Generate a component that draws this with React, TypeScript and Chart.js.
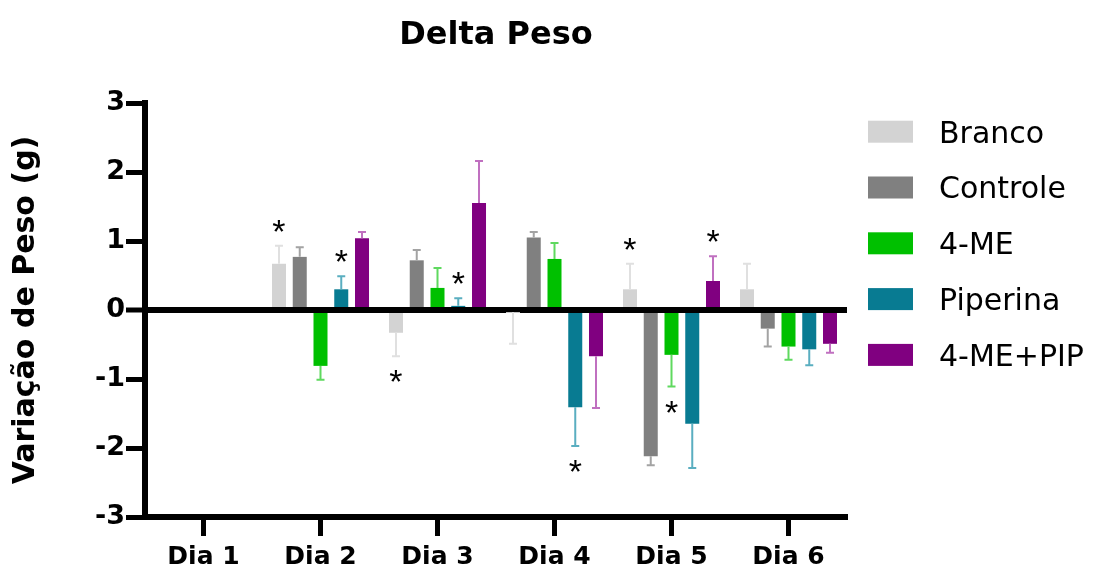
import React, { useEffect, useRef } from 'react';
import { Chart, registerables } from 'chart.js';

Chart.register(...registerables);

// ---- Data ----
const categories = ['Dia 1', 'Dia 2', 'Dia 3', 'Dia 4', 'Dia 5', 'Dia 6'];
const seriesNames = ['Branco', 'Controle', '4-ME', 'Piperina', '4-ME+PIP'];

const branco = [null, 0.67, -0.33, -0.03, 0.30, 0.30];
const brancoErr = [null, 0.26, 0.34, 0.46, 0.37, 0.37];
const brancoSig = [0, 1, 1, 0, 1, 0];

const controle = [null, 0.77, 0.72, 1.05, -2.12, -0.27];
const controleErr = [null, 0.14, 0.15, 0.08, 0.13, 0.26];
const controleSig = [0, 0, 0, 0, 0, 0];

const me4 = [null, -0.81, 0.32, 0.74, -0.65, -0.53];
const me4Err = [null, 0.20, 0.29, 0.23, 0.46, 0.19];
const me4Sig = [0, 0, 0, 0, 1, 0];

const piperina = [null, 0.30, 0.06, -1.41, -1.65, -0.57];
const piperinaErr = [null, 0.19, 0.11, 0.56, 0.64, 0.23];
const piperinaSig = [0, 1, 1, 1, 0, 0];

const mePip = [null, 1.04, 1.55, -0.67, 0.42, -0.49];
const mePipErr = [null, 0.09, 0.61, 0.75, 0.36, 0.13];
const mePipSig = [0, 0, 0, 0, 1, 0];

const yTicks = [-3, -2, -1, 0, 1, 2, 3];

const barColors = ['#d3d3d3', '#808080', '#00c000', '#087b92', '#800080'];
const errColors = ['#e0e0e0', '#a3a3a3', '#5fd95f', '#5aaec0', '#c070c0'];

const FONT = "'DejaVu Sans', sans-serif";

const errorBarPlugin = {
  id: 'errorBars',
  afterDatasetsDraw(chart: any) {
    const ctx = chart.ctx;
    const yScale = chart.scales.y;
    chart.data.datasets.forEach((ds: any, i: number) => {
      const meta = chart.getDatasetMeta(i);
      meta.data.forEach((bar: any, j: number) => {
        const v = ds.data[j];
        if (v == null) return;
        const e = ds.errors[j];
        const end = v >= 0 ? v + e : v - e;
        const yv = yScale.getPixelForValue(v);
        const ye = yScale.getPixelForValue(end);
        ctx.save();
        ctx.strokeStyle = ds.errorColor;
        ctx.lineWidth = 2;
        ctx.beginPath();
        ctx.moveTo(bar.x, yv);
        ctx.lineTo(bar.x, ye);
        ctx.moveTo(bar.x - 4, ye);
        ctx.lineTo(bar.x + 4, ye);
        ctx.stroke();
        if (ds.sig[j]) {
          ctx.font = "34px 'Liberation Sans', sans-serif";
          ctx.fillStyle = '#000';
          ctx.textAlign = 'center';
          ctx.textBaseline = 'alphabetic';
          const m = ctx.measureText('*');
          const cy = v >= 0 ? ye - 20 : ye + 20;
          const baseY = cy + (m.actualBoundingBoxAscent - m.actualBoundingBoxDescent) / 2;
          ctx.fillText('*', bar.x, baseY);
        }
        ctx.restore();
      });
    });
  },
};

const sideLegendPlugin = {
  id: 'sideLegend',
  afterDraw(chart: any) {
    const ctx = chart.ctx;
    const area = chart.chartArea;
    ctx.save();
    ctx.font = `30px ${FONT}`;
    ctx.textAlign = 'left';
    ctx.textBaseline = 'alphabetic';
    chart.data.datasets.forEach((ds: any, i: number) => {
      const cy = area.top + 28.7 + i * 55.8;
      const bx = area.right + 21;
      ctx.fillStyle = ds.backgroundColor;
      ctx.fillRect(bx, cy - 11, 45, 22);
      ctx.fillStyle = '#000';
      ctx.fillText(ds.label, bx + 71, cy + 10.9);
    });
    ctx.restore();
  },
};

export default function App() {
  const canvasRef = useRef<HTMLCanvasElement | null>(null);

  useEffect(() => {
    document.body.style.margin = '0';
    const canvas = canvasRef.current;
    if (!canvas) return;

    const values = [branco, controle, me4, piperina, mePip];
    const errs = [brancoErr, controleErr, me4Err, piperinaErr, mePipErr];
    const sigs = [brancoSig, controleSig, me4Sig, piperinaSig, mePipSig];

    const datasets = seriesNames.map((name, i) => ({
      label: name,
      data: values[i],
      errors: errs[i],
      sig: sigs[i],
      errorColor: errColors[i],
      backgroundColor: barColors[i],
      borderWidth: 0,
      categoryPercentage: 0.887,
      barPercentage: 0.675,
    }));

    const chart = new Chart(canvas, {
      type: 'bar',
      data: { labels: categories, datasets: datasets as any },
      options: {
        responsive: false,
        animation: false,
        events: [],
        layout: { padding: { right: 250, left: 0, top: 0, bottom: 0 } },
        plugins: {
          legend: { display: false },
          tooltip: { enabled: false },
          title: {
            display: true,
            text: 'Delta Peso',
            fullSize: false,
            color: '#000',
            font: { family: FONT, size: 32, weight: 'bold' },
            padding: { top: 16, bottom: 48.6 },
          },
        },
        scales: {
          x: {
            afterFit: (s: any) => {
              s.height = 53;
            },
            ticks: {
              color: '#000',
              font: { family: FONT, size: 25, weight: 'bold' },
              padding: 6,
            },
            grid: {
              display: true,
              drawOnChartArea: false,
              drawTicks: true,
              tickLength: 19,
              tickWidth: 5,
              tickColor: '#000',
              offset: false,
            },
            border: { display: true, color: '#000', width: 6 },
          },
          y: {
            min: -3,
            max: 3,
            z: 1,
            afterFit: (s: any) => {
              s.width = 145;
            },
            afterBuildTicks: (s: any) => {
              s.ticks = yTicks.map((v) => ({ value: v }));
            },
            ticks: {
              color: '#000',
              font: { family: FONT, size: 27, weight: 'bold' },
              padding: 1,
            },
            grid: {
              color: (c: any) => (c.tick && c.tick.value === 0 ? '#000' : 'rgba(0,0,0,0)'),
              lineWidth: (c: any) => (c.tick && c.tick.value === 0 ? 6 : 1),
              drawTicks: true,
              tickLength: 19,
              tickWidth: 5,
              tickColor: '#000',
            },
            border: { display: true, color: '#000', width: 6 },
            title: {
              display: true,
              text: 'Variação de Peso (g)',
              color: '#000',
              font: { family: FONT, size: 30, weight: 'bold' },
              padding: { top: 8, bottom: 0 },
            },
          },
        },
      } as any,
      plugins: [errorBarPlugin, sideLegendPlugin],
    });

    return () => {
      chart.destroy();
    };
  }, []);

  return (
    <canvas
      ref={canvasRef}
      width={1097}
      height={570}
      style={{ display: 'block', width: '1097px', height: '570px' }}
    />
  );
}
